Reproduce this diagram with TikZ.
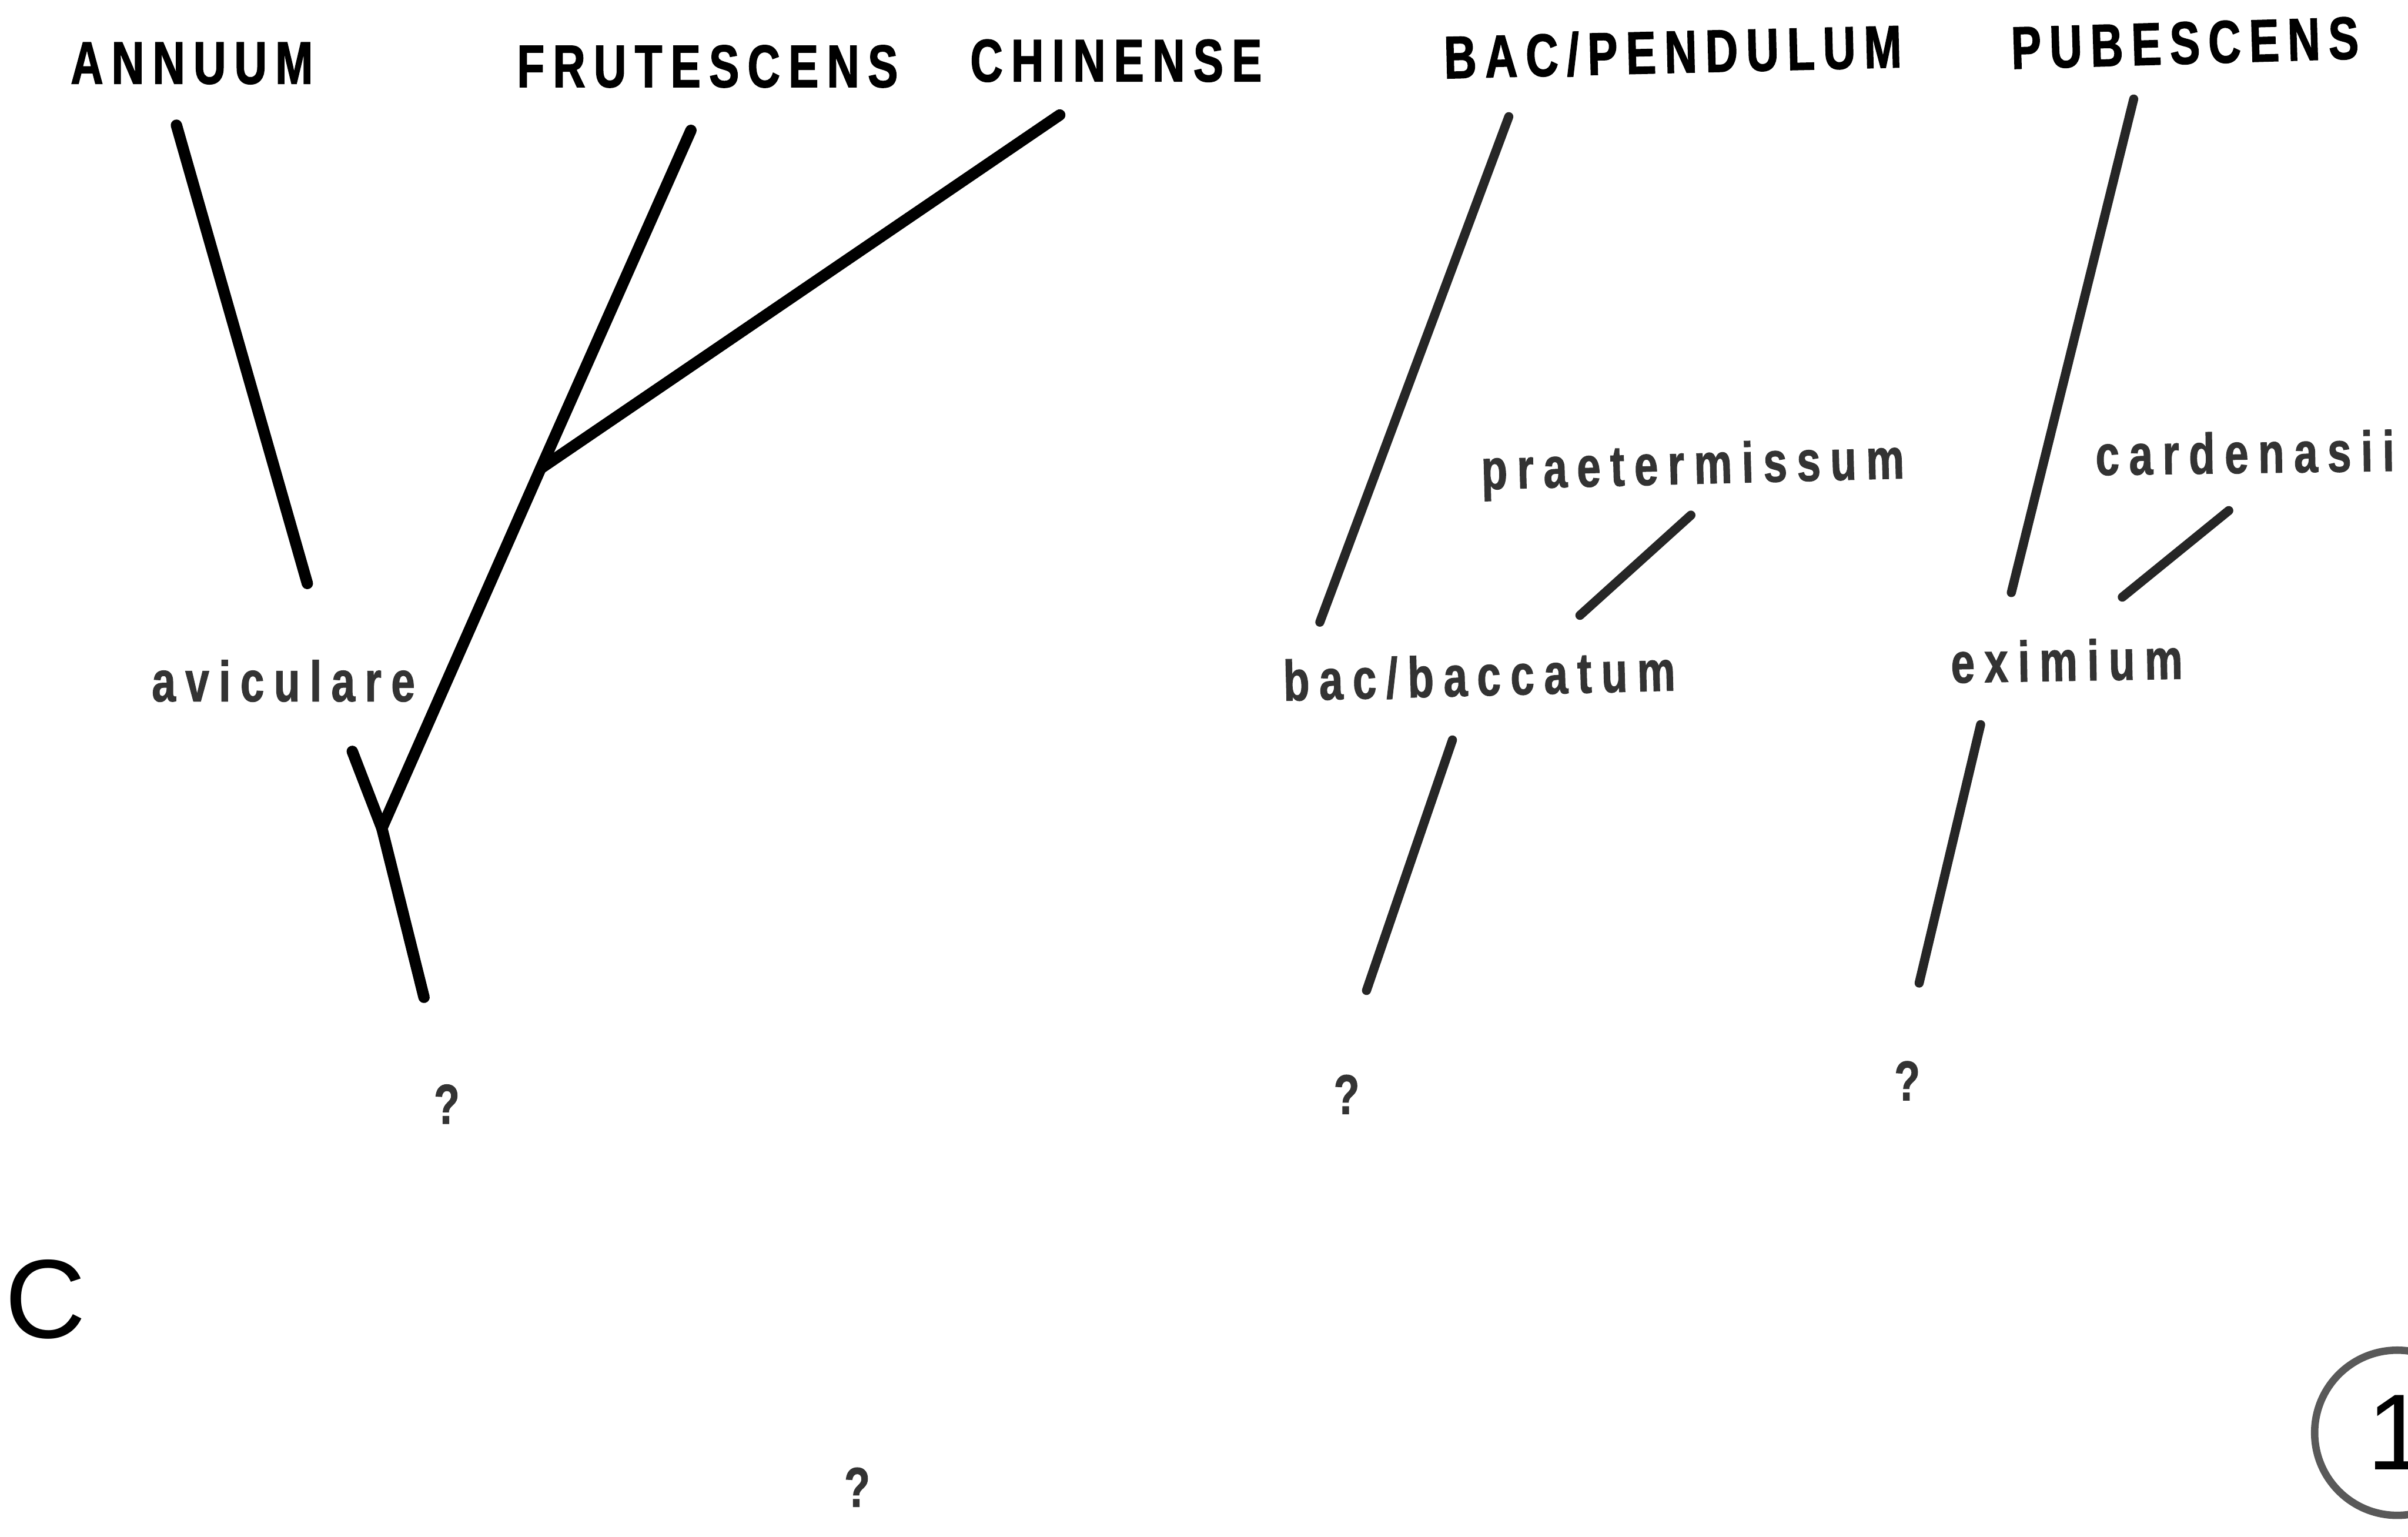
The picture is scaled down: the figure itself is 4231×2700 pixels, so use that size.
\documentclass[tikz,border=0pt]{standalone}
\usepackage{fontspec}
\setmainfont{Liberation Sans}
\newfontfamily\capsfont{Liberation Sans}[FakeStretch=0.75,LetterSpace=14,FakeBold=1.5]
\newfontfamily\lowfont{Liberation Sans}[FakeStretch=0.75,LetterSpace=17,FakeBold=1.2]

\begin{document}
\begin{tikzpicture}[x=0.01cm,y=-0.01cm,
  stem/.style={black, line width=0.2cm, line cap=round},
  twig/.style={black!85, line width=0.16cm, line cap=round},
  sp/.style={inner sep=0pt, anchor=base, font=\capsfont\bfseries\fontsize{30pt}{30pt}\selectfont},
  var/.style={inner sep=0pt, anchor=base, text=black!80, font=\lowfont\bfseries\fontsize{28.5pt}{29pt}\selectfont},
  qm/.style={inner sep=0pt, anchor=base, text=black!80, font=\lowfont\bfseries\fontsize{28pt}{28pt}\selectfont}]
  \clip (0,0) rectangle (4231,2700);
  \fill [white] (0,0) rectangle (4231,2700);

  \node [sp] (annuum) at (337,147) {ANNUUM};
  \node [sp] (frutescens) at (1243,153) {FRUTESCENS};
  \node [sp] (chinense) at (1961,143) {CHINENSE};
  \node [sp, rotate=1.4] (pendulum) at (2940,128) {BAC/PENDULUM};
  \node [sp, rotate=1.7] (pubescens) at (3840,112) {PUBESCENS};

  \node [var] (aviculare) at (498,1232) {aviculare};
  \node [var, rotate=1.5] (praetermissum) at (2975,850) {praetermissum};
  \node [var, rotate=0.8] (cardenasii) at (3945,831) {cardenasii};
  \node [var, rotate=1.5] (baccatum) at (2600,1222) {bac/baccatum};
  \node [var, rotate=1] (eximium) at (3632,1196) {eximium};

  \node [qm] (qavic) at (785,1974) {?};
  \node [qm] (qbac) at (2366,1957) {?};
  \node [qm] (qexim) at (3351,1933) {?};
  \node [qm] (qbase) at (1506,2647) {?};

  \node [inner sep=0pt, font=\fontsize{56pt}{56pt}\selectfont] (panel) at (80,2283) {C};
  \node [circle, draw=black!65, line width=0.13cm, minimum size=2.9cm, inner sep=0pt,
         font=\fontsize{54pt}{54pt}\selectfont] (plate) at (4212,2517) {1};

  \coordinate (annuumTop) at (310,220);
  \coordinate (annuumEnd) at (540,1025);
  \coordinate (frutTop) at (1214,229);
  \coordinate (chinTop) at (1862,202);
  \coordinate (chinFork) at (950,823);
  \coordinate (avicTop) at (619,1320);
  \coordinate (avicFork) at (671,1455);
  \coordinate (avicEnd) at (745,1752);

  \draw [stem] (annuumTop) -- (annuumEnd);
  \draw [stem] (frutTop) -- (chinFork) -- (avicFork);
  \draw [stem] (chinTop) -- (chinFork);
  \draw [stem] (avicTop) -- (avicFork) -- (avicEnd);

  \coordinate (pendTop) at (2651,205);
  \coordinate (pendEnd) at (2319,1093);
  \coordinate (praeTop) at (2971,905);
  \coordinate (praeEnd) at (2776,1081);
  \coordinate (bacTop) at (2552,1300);
  \coordinate (bacEnd) at (2401,1740);
  \coordinate (pubTop) at (3749,174);
  \coordinate (pubEnd) at (3534,1041);
  \coordinate (cardTop) at (3916,897);
  \coordinate (cardEnd) at (3729,1049);
  \coordinate (exTop) at (3480,1273);
  \coordinate (exEnd) at (3372,1727);

  \draw [twig] (pendTop) -- (pendEnd);
  \draw [twig] (praeTop) -- (praeEnd);
  \draw [twig] (bacTop) -- (bacEnd);
  \draw [twig] (pubTop) -- (pubEnd);
  \draw [twig] (cardTop) -- (cardEnd);
  \draw [twig] (exTop) -- (exEnd);
\end{tikzpicture}
\end{document}
